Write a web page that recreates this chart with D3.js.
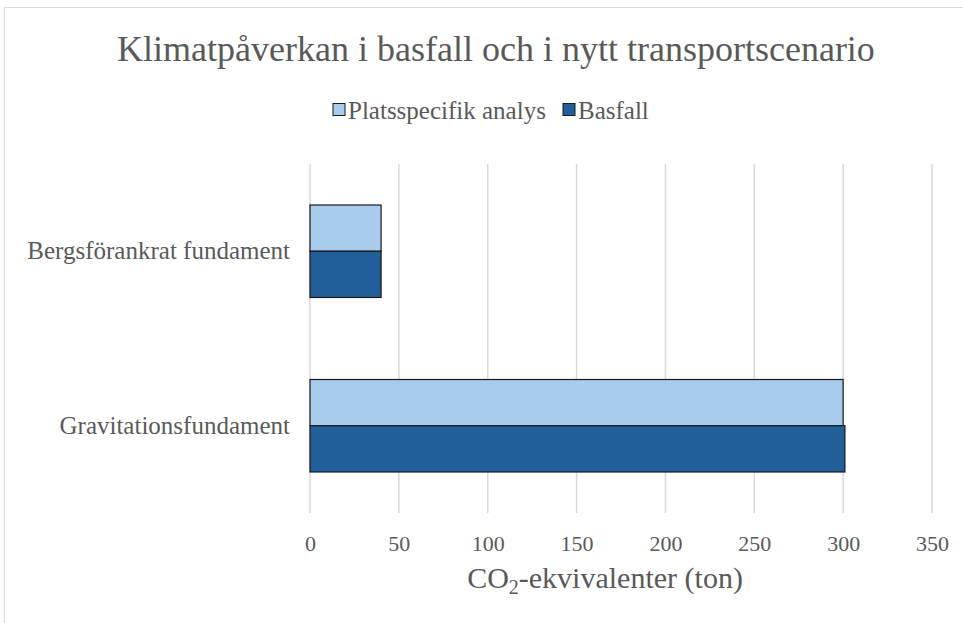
<!DOCTYPE html>
<html><head><meta charset="utf-8">
<script src="https://cdn.jsdelivr.net/npm/d3@7"></script>
<style>body{margin:0;background:#fff}svg{display:block}</style>
</head><body>
<script>
const categories = ["Bergsförankrat fundament", "Gravitationsfundament"];
const seriesNames = ["Platsspecifik analys", "Basfall"];
const platsspecifik = [40, 300];
const basfall = [40, 301];
const xTicks = [0, 50, 100, 150, 200, 250, 300, 350];
const colors = ["#A9CBEC", "#215F9A"];

const FONT = "'Liberation Serif', 'Times New Roman', Tinos, 'DejaVu Serif', serif";
const W = 963, H = 623;
const svg = d3.select("body").append("svg").attr("width", W).attr("height", H)
  .style("font-family", FONT);
svg.append("path").attr("d", `M4.5,${H} V7.5 H${W}`).attr("fill","none").attr("stroke","#d9d9d9").attr("stroke-width",1);

const pLeft = 310, pRight = 932, pTop = 164, pBottom = 513;
const x = d3.scaleLinear().domain([0, 350]).range([pLeft, pRight]);
const y = d3.scaleBand().domain(categories).range([pTop, pBottom]).paddingInner(0.47).paddingOuter(0.235);
const ySub = d3.scaleBand().domain(seriesNames).range([0, y.bandwidth()]);

svg.append("g").selectAll("line").data(xTicks).join("line")
  .attr("x1", d => x(d)).attr("x2", d => x(d)).attr("y1", pTop).attr("y2", pBottom)
  .attr("stroke", "#d9d9d9").attr("stroke-width", 1.5);

const data = [platsspecifik, basfall];
seriesNames.forEach((s, si) => {
  svg.append("g").selectAll("rect").data(categories).join("rect")
    .attr("x", x(0)).attr("y", (c) => y(c) + ySub(s))
    .attr("width", (c, i) => x(data[si][i]) - x(0))
    .attr("height", ySub.bandwidth())
    .attr("fill", colors[si]).attr("stroke", "#1a1a1a").attr("stroke-width", 1.2);
});

const xAxis = d3.axisBottom(x).tickValues(xTicks).tickSize(0).tickPadding(0);
const gx = svg.append("g").attr("transform", `translate(0,535)`).call(xAxis)
  .attr("font-family", null).attr("font-size", 22);
gx.select(".domain").remove();
gx.selectAll("text").style("font-family", FONT).attr("fill", "#595959");

const yAxis = d3.axisLeft(y).tickSize(0).tickPadding(20);
const gy = svg.append("g").attr("transform", `translate(${pLeft},0)`).call(yAxis)
  .attr("font-family", null).attr("font-size", 25);
gy.select(".domain").remove();
gy.selectAll("text").style("font-family", FONT).attr("fill", "#595959");

const at = svg.append("text").attr("x", 605).attr("y", 588).attr("text-anchor", "middle")
  .attr("font-size", 30).attr("fill", "#595959").style("font-family", FONT);
at.append("tspan").text("CO");
at.append("tspan").text("2").attr("font-size", 20).attr("dy", 6);
at.append("tspan").text("-ekvivalenter (ton)").attr("dy", -6);

svg.append("text").attr("x", 496).attr("y", 61).attr("text-anchor", "middle").attr("font-size", 36)
  .attr("fill", "#595959").style("font-family", FONT)
  .text("Klimatpåverkan i basfall och i nytt transportscenario");

const legX = [333, 563];
seriesNames.forEach((s, i) => {
  svg.append("rect").attr("x", legX[i]).attr("y", 103.5).attr("width", 12).attr("height", 12)
    .attr("fill", colors[i]).attr("stroke", "#1a1a1a").attr("stroke-width", 1);
  svg.append("text").attr("x", legX[i] + 15).attr("y", 119).attr("font-size", 25)
    .attr("fill", "#595959").style("font-family", FONT).text(s);
});
</script>
</body></html>
